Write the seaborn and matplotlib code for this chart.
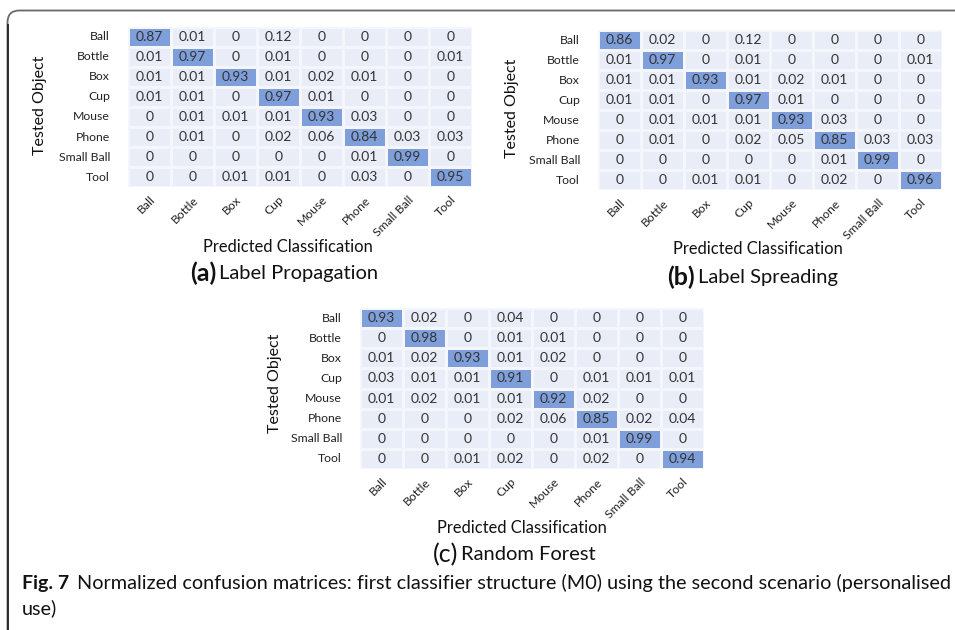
import numpy as np
import pandas as pd
import matplotlib
matplotlib.use("Agg")
import matplotlib.pyplot as plt
from matplotlib.colors import ListedColormap, BoundaryNorm
from matplotlib.patches import FancyBboxPatch
import seaborn as sns

classes = ["Ball", "Bottle", "Box", "Cup", "Mouse", "Phone", "Small Ball", "Tool"]

label_propagation = [
    [0.87, 0.01, 0, 0.12, 0, 0, 0, 0],
    [0.01, 0.97, 0, 0.01, 0, 0, 0, 0.01],
    [0.01, 0.01, 0.93, 0.01, 0.02, 0.01, 0, 0],
    [0.01, 0.01, 0, 0.97, 0.01, 0, 0, 0],
    [0, 0.01, 0.01, 0.01, 0.93, 0.03, 0, 0],
    [0, 0.01, 0, 0.02, 0.06, 0.84, 0.03, 0.03],
    [0, 0, 0, 0, 0, 0.01, 0.99, 0],
    [0, 0, 0.01, 0.01, 0, 0.03, 0, 0.95],
]

label_spreading = [
    [0.86, 0.02, 0, 0.12, 0, 0, 0, 0],
    [0.01, 0.97, 0, 0.01, 0, 0, 0, 0.01],
    [0.01, 0.01, 0.93, 0.01, 0.02, 0.01, 0, 0],
    [0.01, 0.01, 0, 0.97, 0.01, 0, 0, 0],
    [0, 0.01, 0.01, 0.01, 0.93, 0.03, 0, 0],
    [0, 0.01, 0, 0.02, 0.05, 0.85, 0.03, 0.03],
    [0, 0, 0, 0, 0, 0.01, 0.99, 0],
    [0, 0, 0.01, 0.01, 0, 0.02, 0, 0.96],
]

random_forest = [
    [0.93, 0.02, 0, 0.04, 0, 0, 0, 0],
    [0, 0.98, 0, 0.01, 0.01, 0, 0, 0],
    [0.01, 0.02, 0.93, 0.01, 0.02, 0, 0, 0],
    [0.03, 0.01, 0.01, 0.91, 0, 0.01, 0.01, 0.01],
    [0.01, 0.02, 0.01, 0.01, 0.92, 0.02, 0, 0],
    [0, 0, 0, 0.02, 0.06, 0.85, 0.02, 0.04],
    [0, 0, 0, 0, 0, 0.01, 0.99, 0],
    [0, 0, 0.01, 0.02, 0, 0.02, 0, 0.94],
]

panel_tags = ["(a)", "(b)", "(c)"]
panel_names = ["Label Propagation", "Label Spreading", "Random Forest"]
caption_tag = "Fig. 7"
caption_text = ("Normalized confusion matrices: first classifier structure (M0) "
                "using the second scenario (personalised")
caption_tail = "use)"

sns.set_theme(style="white")
plt.rcParams["font.family"] = ["Lato", "DejaVu Sans"]

W, H = 955, 630
fig = plt.figure(figsize=(W / 100, H / 100), dpi=100)

# full-figure overlay in pixel units for frame and free text
bg = fig.add_axes([0, 0, 1, 1])
bg.set_xlim(0, W)
bg.set_ylim(H, 0)
bg.axis("off")
bg.add_patch(FancyBboxPatch((7.5, 10.5), 1100, 800,
                            boxstyle="round,pad=0,rounding_size=12",
                            fill=False, ec="#6a6a6a", lw=1.3))
bg.plot([7.5, 7.5], [24, H + 5], color="#222222", lw=1.3,
        solid_capstyle="butt")

cmap = ListedColormap(["#e8edf7", "#7f9fda"])
norm = BoundaryNorm([0, 0.5, 1.0], cmap.N)

# (left, right, top, bottom) of each heatmap in pixels
boxes = [(128, 472, 27, 187), (598, 942, 30, 190), (360, 704, 308, 469)]
ylabel_pos = [(40, 105), (512, 108), (275, 383)]
xlabel_pos = [(288, 247), (758, 249), (522, 528)]
title_split = [(216, 273), (695, 277), (458, 555)]
tag_bold = [True, True, False]

for k, data in enumerate([label_propagation, label_spreading, random_forest]):
    l, r, t, b = boxes[k]
    ax = fig.add_axes([l / W, 1 - b / H, (r - l) / W, (b - t) / H])
    df = pd.DataFrame(data, index=classes, columns=classes)
    sns.heatmap(df, ax=ax, cmap=cmap, norm=norm, cbar=False, annot=True,
                fmt="g", linewidths=0.8, linecolor="#f4f6fb",
                annot_kws={"color": "#333333", "fontsize": 10})
    ax.tick_params(axis="y", length=0, pad=13, labelsize=8.8)
    ax.tick_params(axis="x", length=0, pad=5, labelsize=8.8)
    plt.setp(ax.get_yticklabels(), rotation=0, color="#222222")
    plt.setp(ax.get_xticklabels(), rotation=45, ha="right",
             rotation_mode="anchor", color="#222222")
    ax.set_xlabel("")
    ax.set_ylabel("")

    x, y = ylabel_pos[k]
    bg.text(x, y, "Tested Object", rotation=90, ha="center", va="center",
            fontsize=11.5, color="#111111")
    x, y = xlabel_pos[k]
    bg.text(x, y, "Predicted Classification", ha="center", va="center",
            fontsize=11.9, color="#111111")
    x, y = title_split[k]
    bg.text(x, y, panel_tags[k], ha="right", va="center", fontsize=18,
            fontweight="bold" if tag_bold[k] else "normal", color="#111111")
    bg.text(x + 3, y, panel_names[k], ha="left", va="center", fontsize=14.5,
            color="#111111")

bg.text(22, 583, caption_tag, ha="left", va="center", fontsize=14,
        fontweight="bold", color="#111111")
bg.text(77, 583, caption_text, ha="left", va="center", fontsize=14.3,
        color="#111111")
bg.text(22, 608, caption_tail, ha="left", va="center", fontsize=14.3,
        color="#111111")

fig.savefig("out.png", dpi=100, facecolor="white")
